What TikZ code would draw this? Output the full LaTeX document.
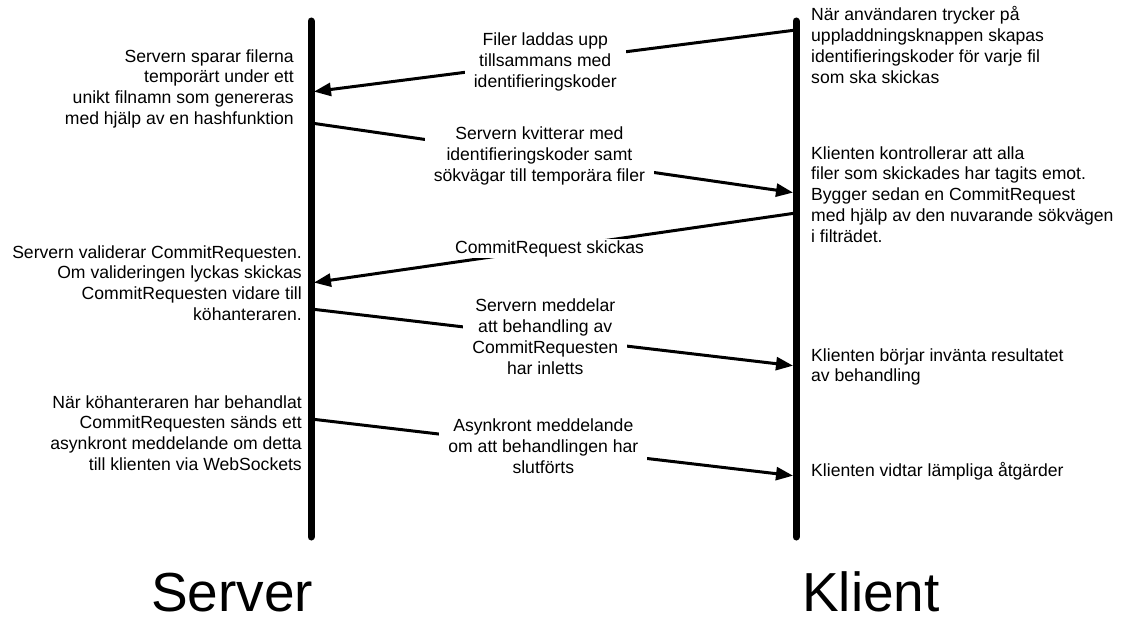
\documentclass[tikz,border=0pt]{standalone}
\usepackage{fontspec}
\setmainfont{Liberation Sans}
\usetikzlibrary{arrows.meta}
\begin{document}
\begin{tikzpicture}[x=1pt,y=-1pt,
  lifeline/.style={line width=7pt,line cap=round},
  msg/.style={line width=3pt,-{Triangle[length=17pt,width=13pt]},shorten >=3pt},
  lbl/.style={fill=white,inner xsep=9pt,inner ysep=1pt,align=center,font=\fontsize{17.6}{20.8}\selectfont},
  note/.style={inner sep=0pt,font=\fontsize{17.6}{20.8}\selectfont},
  leftnote/.style={note,align=right,anchor=base east},
  rightnote/.style={note,align=left,anchor=base west},
  title/.style={inner sep=0pt,anchor=base,text depth=0pt,font=\fontsize{55}{60}\selectfont}]
\useasboundingbox (0,0) rectangle (1122,618);
% lifeline ends
\coordinate (stop) at (311,21);
\coordinate (sbot) at (311,537);
\coordinate (ctop) at (796,21);
\coordinate (cbot) at (796,537);
% message endpoints
\coordinate (c1) at (796,30);
\coordinate (s1) at (311,92);
\coordinate (s2) at (311,123);
\coordinate (c2) at (796,193);
\coordinate (c3) at (796,213);
\coordinate (s3) at (311,283);
\coordinate (s4) at (311,309);
\coordinate (c4) at (796,366);
\coordinate (s5) at (311,419);
\coordinate (c5) at (796,476);
% messages
\draw[msg] (c1) -- node[lbl,pos=0.517] (m1) {Filer laddas upp\\tillsammans med\\identifieringskoder} (s1);
\draw[msg] (s2) -- node[lbl,pos=0.471] (m2) {Servern kvitterar med\\identifieringskoder samt\\sökvägar till temporära filer} (c2);
\draw[msg] (c3) -- node[lbl,pos=0.508] (m3) {CommitRequest skickas} (s3);
\draw[msg] (s4) -- node[lbl,pos=0.483] (m4) {Servern meddelar\\att behandling av\\CommitRequesten\\har inletts} (c4);
\draw[msg] (s5) -- node[lbl,pos=0.479] (m5) {Asynkront meddelande\\om att behandlingen har\\slutförts} (c5);
% lifelines
\draw[lifeline] (stop) -- (sbot);
\draw[lifeline] (ctop) -- (cbot);
% server notes (anchored at the baseline of the last line)
\node[leftnote] (n1) at (294,124.4) {Servern sparar filerna\\temporärt under ett\\unikt filnamn som genereras\\med hjälp av en hashfunktion};
\node[leftnote] (n2) at (302,320.4) {Servern validerar CommitRequesten.\\Om valideringen lyckas skickas\\CommitRequesten vidare till\\köhanteraren.};
\node[leftnote] (n3) at (302,470.4) {När köhanteraren har behandlat\\CommitRequesten sänds ett\\asynkront meddelande om detta\\till klienten via WebSockets};
% client notes
\node[rightnote] (k1) at (811,83.4) {När användaren trycker på\\uppladdningsknappen skapas\\identifieringskoder för varje fil\\som ska skickas};
\node[rightnote] (k2) at (811,242.2) {Klienten kontrollerar att alla\\filer som skickades har tagits emot.\\Bygger sedan en CommitRequest\\med hjälp av den nuvarande sökvägen\\i filträdet.};
\node[rightnote] (k3) at (811,381.8) {Klienten börjar invänta resultatet\\av behandling};
\node[rightnote] (k4) at (811,476) {Klienten vidtar lämpliga åtgärder};
% titles
\node[title] (server) at (232,611) {Server};
\node[title] (klient) at (871,611) {Klient};
\end{tikzpicture}
\end{document}
